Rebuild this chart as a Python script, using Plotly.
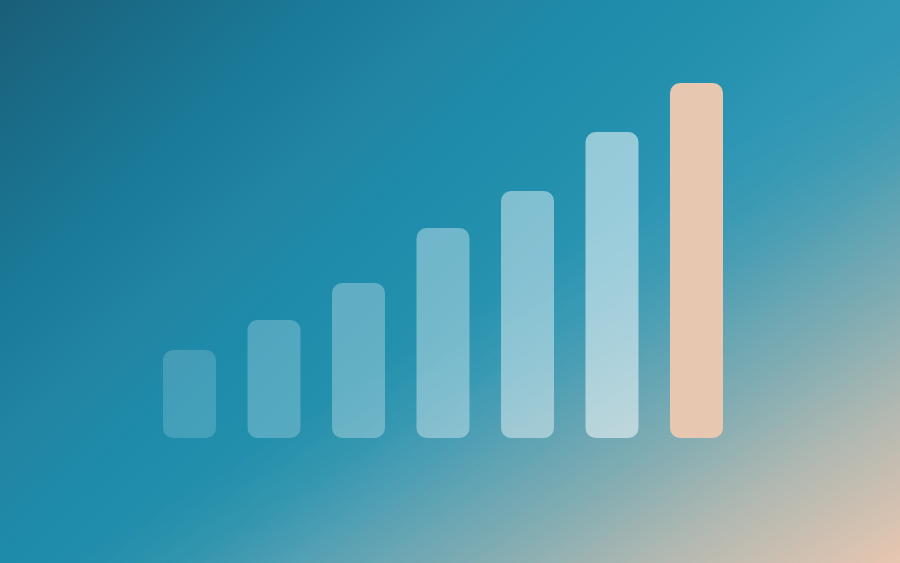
import numpy as np
import plotly.graph_objects as go

# bar data (heights)
categories = ["1", "2", "3", "4", "5", "6", "7"]
values = [88, 118, 155, 210, 247, 306, 355]
bar_colors = [
    "rgba(255,255,255,0.17)", "rgba(255,255,255,0.23)", "rgba(255,255,255,0.29)",
    "rgba(255,255,255,0.36)", "rgba(255,255,255,0.43)", "rgba(255,255,255,0.52)",
    "#e8c7b0",
]

W, H = 900, 563

# background: teal base gradient (dark in the top-left corner)
base_scale = [
    [0.0, "#1a5e78"],
    [0.21, "#1a7a98"],
    [0.32, "#2285a2"],
    [0.4, "#1e8bab"],
    [0.5, "#2390ad"],
    [0.6, "#2e97b5"],
    [1.0, "#3a9cb5"],
]
# peach wash over the bottom-right corner
peach_scale = [
    [0.0, "rgba(232,198,176,0)"],
    [0.53, "rgba(232,198,176,0)"],
    [0.6, "rgba(232,198,176,0.07)"],
    [0.645, "rgba(232,198,176,0.16)"],
    [0.72, "rgba(232,198,176,0.34)"],
    [0.765, "rgba(232,198,176,0.44)"],
    [0.855, "rgba(232,198,176,0.68)"],
    [0.92, "rgba(232,198,176,0.82)"],
    [1.0, "rgba(232,198,176,1)"],
]
gx = np.linspace(0, 1, 16)
gy = np.linspace(0, 1, 12)
z_base = [[(1.5 * xv + (1 - yv)) / 2.5 for xv in gx] for yv in gy]
z_peach = [[(xv + (1 - yv)) / 2 for xv in gx] for yv in gy]

fig = go.Figure()
fig.add_trace(go.Heatmap(x=gx, y=gy, z=z_base, colorscale=base_scale, zmin=0, zmax=1,
                         zsmooth="best", showscale=False, hoverinfo="skip"))
fig.add_trace(go.Heatmap(x=gx, y=gy, z=z_peach, colorscale=peach_scale, zmin=0, zmax=1,
                         zsmooth="best", showscale=False, hoverinfo="skip"))

fig.add_trace(go.Bar(x=categories, y=values, base=[0] * len(values),
                     marker=dict(color=bar_colors, cornerradius=10, line=dict(width=0)),
                     xaxis="x2", yaxis="y2"))

fig.update_layout(
    width=W, height=H,
    margin=dict(l=0, r=0, t=0, b=0),
    paper_bgcolor="#1f88a8",
    plot_bgcolor="rgba(0,0,0,0)",
    showlegend=False,
    bargap=1 - 53 / 84.5,
    xaxis=dict(domain=[0, 1], range=[0, 1], visible=False, fixedrange=True),
    yaxis=dict(domain=[0, 1], range=[0, 1], visible=False, fixedrange=True),
    xaxis2=dict(domain=[147.25 / W, 738.75 / W], range=[-0.5, 6.5], visible=False,
                anchor="y2", type="category"),
    yaxis2=dict(domain=[125 / H, 525 / H], range=[0, 400], visible=False, anchor="x2"),
)

fig.write_html("out.html", config={"displayModeBar": False},
               post_script="document.body.style.margin='0';")
